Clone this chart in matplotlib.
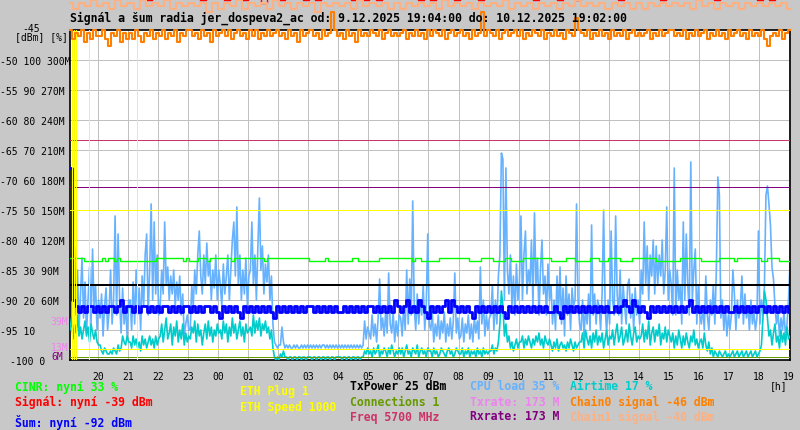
import numpy as np
import matplotlib.pyplot as plt

W, H = 800, 430
BG = '#c8c8c8'
MONO = 'DejaVu Sans Mono'

# time axis in hours counted from 9.12. 00:00
t_start = 19 + 4 / 60
t_end = 43 + 2 / 60
hour_ticks = list(range(20, 44))
hour_labels = ['%02d' % (h % 24) for h in hour_ticks]

# 20 samples per hour (19:04 ... 19:02)
cpu_load = [
    [35, 12, 28, 38, 15, 30, 10, 22, 34, 14, 26, 9, 20, 31, 12, 37, 18, 25, 10, 20],
    [14, 22, 8, 18, 24, 10, 16, 30, 12, 20, 48, 15, 42, 20, 9, 24, 12, 18, 8, 20],
    [20, 10, 26, 12, 30, 15, 24, 10, 28, 18, 35, 42, 15, 30, 52, 20, 46, 22, 35, 15],
    [18, 30, 22, 46, 25, 31, 20, 28, 22, 30, 18, 26, 20, 28, 15, 22, 8, 12, 15, 10],
    [10, 25, 18, 30, 22, 35, 43, 28, 22, 35, 25, 39, 28, 33, 20, 30, 24, 35, 20, 30],
    [25, 18, 32, 22, 28, 35, 20, 30, 40, 46, 28, 51, 25, 35, 20, 30, 22, 34, 18, 28],
    [30, 46, 25, 35, 20, 38, 54, 30, 38, 22, 32, 26, 35, 20, 28, 12, 6, 5, 4, 5],
    [5, 11, 6, 4, 5, 4, 5, 4, 4, 5, 4, 5, 4, 4, 5, 4, 5, 4, 5, 4],
    [5, 4, 5, 4, 5, 4, 5, 4, 5, 5, 4, 5, 4, 5, 4, 5, 4, 5, 4, 5],
    [4, 5, 4, 5, 4, 5, 4, 5, 4, 5, 4, 5, 4, 5, 4, 5, 13, 7, 11, 9],
    [7, 15, 8, 12, 6, 14, 27, 10, 14, 8, 16, 9, 29, 12, 9, 16, 6, 13, 8, 15],
    [14, 8, 18, 10, 30, 12, 27, 15, 53, 18, 10, 22, 12, 20, 15, 25, 10, 18, 42, 12],
    [10, 16, 6, 12, 8, 15, 7, 13, 9, 16, 6, 12, 8, 14, 7, 13, 29, 9, 14, 7],
    [8, 14, 6, 12, 9, 15, 7, 12, 6, 14, 9, 13, 7, 31, 12, 20, 8, 15, 10, 14],
    [15, 25, 10, 20, 12, 28, 35, 69, 67, 20, 64, 30, 22, 35, 18, 28, 15, 32, 20, 26],
    [48, 20, 35, 43, 22, 30, 25, 40, 18, 49, 25, 34, 15, 30, 40, 22, 28, 15, 32, 20],
    [25, 12, 20, 10, 28, 15, 31, 12, 24, 8, 28, 15, 22, 10, 24, 18, 20, 52, 20, 12],
    [10, 20, 8, 18, 12, 22, 10, 45, 15, 22, 12, 20, 18, 10, 22, 50, 18, 9, 20, 12],
    [43, 20, 15, 48, 22, 15, 30, 12, 25, 18, 12, 25, 27, 14, 22, 10, 24, 15, 20, 12],
    [30, 22, 46, 25, 38, 20, 35, 28, 40, 22, 38, 25, 35, 28, 40, 22, 30, 51, 20, 30],
    [25, 15, 64, 15, 30, 20, 25, 12, 46, 20, 42, 25, 15, 66, 20, 30, 37, 12, 25, 15],
    [12, 18, 10, 28, 15, 10, 20, 15, 25, 12, 30, 61, 55, 14, 20, 10, 18, 8, 15, 10],
    [15, 30, 22, 10, 20, 14, 18, 28, 12, 22, 14, 18, 10, 20, 12, 16, 10, 14, 43, 12],
    [20, 15, 25, 55, 58, 52, 45, 31, 27, 18, 12, 16, 8, 14, 10, 16, 8, 12, 20, 32],
]

airtime = [
    [10, 14, 7, 12, 9, 15, 8, 11, 7, 10, 13, 8, 11, 6, 12, 9, 7, 10, 6, 5],
    [5, 3, 2, 4, 3, 2, 2, 3, 2, 4, 3, 2, 5, 3, 4, 8, 6, 5, 8, 6],
    [6, 4, 8, 5, 7, 4, 6, 3, 8, 5, 7, 4, 6, 8, 5, 7, 4, 8, 5, 7],
    [8, 12, 6, 10, 14, 7, 9, 12, 5, 11, 8, 13, 6, 10, 7, 12, 5, 9, 6, 8],
    [7, 11, 9, 13, 6, 12, 8, 10, 5, 9, 12, 7, 13, 8, 11, 6, 10, 8, 12, 9],
    [10, 7, 13, 9, 12, 6, 11, 8, 14, 9, 12, 7, 10, 13, 8, 11, 6, 12, 9, 10],
    [11, 8, 15, 9, 13, 10, 14, 8, 12, 10, 13, 9, 11, 7, 10, 4, 1, 0, 1, 0],
    [2, 1, 3, 1, 1, 0, 1, 1, 0, 1, 1, 0, 1, 1, 0, 1, 1, 0, 1, 1],
    [1, 0, 1, 1, 0, 1, 1, 0, 1, 1, 0, 1, 1, 0, 1, 1, 0, 1, 1, 1],
    [1, 0, 1, 1, 0, 1, 1, 0, 1, 1, 0, 1, 1, 0, 1, 1, 3, 2, 4, 2],
    [3, 1, 4, 2, 3, 5, 1, 3, 2, 4, 3, 1, 4, 2, 5, 3, 1, 3, 2, 4],
    [2, 4, 1, 3, 5, 2, 3, 1, 4, 3, 2, 5, 1, 3, 4, 2, 3, 1, 4, 3],
    [3, 1, 4, 2, 3, 1, 2, 4, 3, 2, 1, 3, 4, 2, 3, 1, 2, 4, 3, 2],
    [2, 4, 1, 3, 2, 4, 1, 3, 2, 3, 1, 4, 2, 3, 1, 4, 2, 3, 2, 3],
    [3, 5, 2, 4, 3, 6, 12, 23, 18, 8, 12, 6, 8, 4, 6, 3, 5, 7, 4, 6],
    [6, 8, 4, 7, 5, 8, 6, 4, 7, 5, 8, 6, 9, 5, 7, 4, 8, 6, 5, 7],
    [5, 3, 6, 4, 7, 3, 5, 6, 4, 5, 3, 6, 4, 7, 5, 3, 6, 4, 5, 6],
    [6, 9, 4, 10, 7, 5, 8, 4, 9, 6, 10, 5, 8, 6, 9, 4, 7, 10, 5, 8],
    [7, 10, 5, 9, 12, 6, 8, 11, 5, 7, 10, 6, 12, 8, 5, 9, 11, 6, 8, 7],
    [8, 12, 6, 10, 7, 13, 5, 9, 11, 6, 10, 8, 12, 5, 9, 7, 11, 6, 10, 8],
    [6, 9, 4, 8, 5, 10, 7, 4, 8, 5, 9, 6, 4, 8, 6, 10, 5, 7, 4, 6],
    [7, 4, 9, 5, 3, 6, 2, 4, 1, 3, 2, 1, 3, 2, 1, 2, 3, 1, 2, 1],
    [2, 3, 1, 2, 3, 1, 2, 3, 1, 2, 3, 1, 2, 3, 1, 2, 3, 1, 2, 3],
    [5, 14, 23, 20, 14, 8, 10, 5, 9, 12, 6, 8, 4, 10, 6, 9, 5, 11, 7, 8],
]

# 10 samples per hour
cinr = [
    [34, 34, 34, 34, 34, 33, 33, 33, 33, 33],
    [33, 34, 33, 34, 34, 33, 34, 33, 33, 33],
    [33, 33, 33, 33, 33, 33, 33, 33, 33, 34],
    [34, 34, 34, 34, 34, 34, 34, 34, 33, 34],
    [33, 33, 33, 34, 34, 34, 33, 34, 34, 34],
    [34, 34, 34, 34, 33, 34, 34, 34, 34, 34],
    [34, 34, 34, 34, 34, 33, 34, 34, 34, 34],
    [34, 34, 34, 34, 34, 34, 34, 34, 34, 34],
    [33, 33, 33, 33, 33, 34, 33, 33, 33, 33],
    [33, 33, 33, 33, 34, 34, 33, 33, 33, 33],
    [33, 33, 33, 34, 34, 34, 34, 34, 34, 34],
    [34, 34, 34, 34, 33, 34, 34, 33, 33, 33],
    [33, 33, 33, 34, 34, 34, 34, 34, 34, 34],
    [34, 34, 34, 33, 33, 33, 33, 34, 34, 34],
    [34, 33, 33, 33, 33, 34, 34, 33, 33, 33],
    [33, 34, 34, 34, 34, 34, 34, 34, 34, 34],
    [33, 33, 33, 33, 33, 34, 34, 34, 33, 33],
    [33, 33, 33, 34, 34, 34, 33, 33, 33, 34],
    [34, 34, 34, 33, 33, 33, 33, 34, 34, 34],
    [34, 34, 34, 34, 34, 33, 33, 33, 33, 33],
    [33, 33, 33, 34, 34, 34, 34, 34, 34, 34],
    [33, 33, 33, 33, 33, 33, 34, 34, 34, 34],
    [34, 33, 34, 34, 34, 34, 34, 34, 34, 34],
    [33, 33, 34, 34, 34, 34, 33, 33, 33, 33],
]

noise = [
    [-68, -90, -91, -92, -91, -92, -91, -91, -92, -91],
    [-92, -91, -92, -91, -91, -92, -91, -90, -92, -91],
    [-91, -92, -91, -92, -91, -91, -92, -91, -92, -91],
    [-92, -91, -91, -92, -91, -92, -91, -92, -91, -91],
    [-92, -91, -92, -91, -92, -91, -91, -92, -91, -92],
    [-93, -91, -92, -91, -92, -91, -92, -93, -91, -92],
    [-91, -92, -91, -92, -91, -92, -91, -92, -93, -91],
    [-92, -91, -92, -91, -92, -91, -92, -91, -92, -91],
    [-91, -92, -91, -92, -91, -92, -91, -92, -91, -92],
    [-92, -91, -92, -91, -92, -91, -92, -91, -92, -91],
    [-91, -92, -91, -92, -91, -92, -91, -92, -90, -91],
    [-92, -91, -90, -92, -91, -92, -90, -91, -92, -93],
    [-91, -92, -91, -92, -91, -90, -92, -90, -91, -92],
    [-91, -92, -91, -92, -93, -91, -92, -91, -92, -91],
    [-92, -91, -92, -91, -92, -93, -91, -92, -91, -92],
    [-91, -92, -91, -92, -91, -92, -91, -92, -91, -92],
    [-92, -91, -92, -93, -91, -92, -91, -92, -91, -92],
    [-91, -92, -91, -92, -91, -92, -91, -92, -91, -92],
    [-92, -91, -92, -91, -90, -91, -92, -90, -91, -92],
    [-91, -92, -93, -91, -92, -91, -92, -91, -92, -91],
    [-92, -91, -92, -91, -92, -91, -90, -92, -91, -92],
    [-91, -92, -91, -92, -91, -92, -91, -92, -91, -92],
    [-92, -91, -92, -91, -92, -91, -92, -91, -92, -91],
    [-91, -92, -91, -92, -91, -92, -91, -92, -91, -92],
]

chain0 = [
    [-45, -46.5, -45.5, -46, -45, -47, -45.5, -46.5, -45, -46],
    [-46, -45, -46.5, -47.7, -45.5, -46, -45, -47, -45.5, -46.5],
    [-45.5, -46.5, -45, -46, -47, -45.5, -46, -45, -46.5, -45.5],
    [-46, -45, -46.5, -45.5, -46, -45, -47, -45.5, -46, -45],
    [-45, -46, -45.5, -46.5, -45, -46, -45.5, -47, -45, -46],
    [-45.5, -45, -46, -45, -46.5, -45.5, -45, -46, -45.5, -46.5],
    [-45, -46, -45, -46.5, -45.5, -46, -45, -46, -45.5, -45],
    [-46, -45.5, -46.5, -45, -46, -45.5, -47, -45, -46, -45.5],
    [-45, -46, -45.5, -46.5, -45, -46, -45.5, -42, -45, -46],
    [-45.5, -46.5, -45, -46, -45.5, -47, -45, -46, -45.5, -46],
    [-45, -45.5, -46, -45, -46.5, -45.5, -45, -46, -45.5, -46],
    [-45.5, -45, -46.5, -45.5, -46, -45, -46, -45.5, -46.5, -45],
    [-46, -45, -45.5, -46, -45, -46.5, -45.5, -45, -46, -45.5],
    [-45, -46, -45.5, -46.5, -45, -46, -45.5, -42, -46, -45],
    [-45.5, -46, -45, -46.5, -45.5, -45, -46, -45.5, -45, -46],
    [-45, -46.5, -45.5, -46, -45, -45.5, -46, -45, -46.5, -45.5],
    [-46, -45, -46, -45.5, -46.5, -45, -45.5, -46, -43, -45],
    [-45.5, -46, -45, -46.5, -45.5, -46, -45, -46, -45.5, -46.5],
    [-45, -46, -45.5, -46, -45, -46.5, -45.5, -45, -46, -45.5],
    [-46, -45.5, -45, -46.5, -45.5, -46, -45, -46, -45.5, -45],
    [-45, -46, -45.5, -46, -45, -46.5, -45.5, -46, -45, -46],
    [-45.5, -45, -46.5, -45.5, -46, -45, -46, -45.5, -46.5, -45],
    [-46, -45.5, -45, -46, -45.5, -46.5, -45, -46, -45.5, -46],
    [-45, -46.5, -47.7, -46, -45.5, -46, -45, -46.5, -45.5, -45],
]

# 5 samples per hour
chain1 = [
    [-40.5, -41.5, -40.5, -41, -40],
    [-41, -40.5, -41.5, -40, -41],
    [-40.5, -41.5, -40, -41, -40.5],
    [-41, -40, -41.5, -40.5, -41],
    [-40.5, -41, -40.5, -42, -40.5],
    [-41.5, -40.5, -41, -40, -41.5],
    [-40.5, -41, -40.5, -41.5, -40],
    [-41, -40.5, -41.5, -40.5, -41],
    [-40.5, -42, -40.5, -41, -40.5],
    [-41, -40.5, -41.5, -40, -41],
    [-40.5, -41, -40.5, -41.5, -40.5],
    [-41.5, -40.5, -41, -40.5, -41],
    [-40.5, -41.5, -40, -41, -40.5],
    [-41, -40.5, -41.5, -40.5, -41],
    [-40.5, -41, -40, -41.5, -40.5],
    [-41, -40.5, -41.5, -40.5, -41],
    [-40.5, -41.5, -40.5, -41, -40],
    [-41, -40.5, -41, -40.5, -41.5],
    [-40.5, -41, -40.5, -41.5, -40.5],
    [-41.5, -40.5, -41, -40.5, -41],
    [-40.5, -41, -40.5, -41.5, -40],
    [-41, -40.5, -41.5, -40.5, -41],
    [-40.5, -41.5, -40.5, -41, -40.5],
    [-41, -40.5, -41, -40.5, -41.5],
]

signal = [
    [-39, -39, -39, -39, -39],
    [-39, -39, -39, -39, -39],
    [-39, -39, -39, -40, -39],
    [-39, -39, -39, -39, -39],
    [-39, -39, -40, -39, -39],
    [-39, -40, -39, -39, -40],
    [-39, -39, -40.5, -39, -39],
    [-40, -39, -39, -39, -40],
    [-39, -40, -39, -39, -39],
    [-39, -39, -40, -39, -40],
    [-39, -40, -39, -39, -39],
    [-39, -39, -39, -40, -39],
    [-40, -39, -39, -39, -40],
    [-39, -39, -39, -40, -39],
    [-39, -39, -39, -39, -39],
    [-39, -39, -40, -39, -39],
    [-39, -40, -39, -39, -40],
    [-39, -39, -39, -39, -39],
    [-39, -40, -39, -39, -39],
    [-39, -39, -39, -40, -39],
    [-39, -39, -39, -39, -39],
    [-39, -39, -40, -39, -39],
    [-39, -39, -39, -39, -40],
    [-39, -40, -39, -39, -39],
]

# constant values (on the % / Mbit scales of the graph)
tx_power = 25          # dBm, drawn on the % scale
connections = 1        # drawn on the % scale
freq_level = 73.3      # Freq 5700 MHz, level on the % scale
eth_speed_level = 50   # ETH Speed 1000, level on the % scale
eth_plug_level = 3.7   # ETH Plug 1, level on the % scale
txrate = 173           # Mbit
rxrate = 173           # Mbit
eth_events = [19 + 7 / 60, 19 + 12 / 60, 19 + 16 / 60, 19 + 41 / 60, 21 + 17 / 60]

left_labels = ['-50 100 300M', '-55 90 270M', '-60 80 240M', '-65 70 210M',
               '-70 60 180M', '-75 50 150M', '-80 40 120M', '-85 30 90M',
               '-90 20 60M', '-95 10']
left_levels = [-50, -55, -60, -65, -70, -75, -80, -85, -90, -95]


def pct(v):
    return -100 + np.asarray(v, dtype=float) / 2


def mbit(v):
    return -100 + np.asarray(v, dtype=float) / 6


cpu_v = np.concatenate(cpu_load)
air_v = np.concatenate(airtime)
cinr_v = np.concatenate(cinr)
noise_v = np.concatenate(noise)
ch0_v = np.concatenate(chain0)
ch1_v = np.concatenate(chain1)
sig_v = np.concatenate(signal)
t20 = np.linspace(t_start, t_end, len(cpu_v))
t10 = np.linspace(t_start, t_end, len(cinr_v))
t5 = np.linspace(t_start, t_end, len(ch1_v))

fig = plt.figure(figsize=(W / 100, H / 100), dpi=100, facecolor=BG)
ax = fig.add_axes([70 / W, 1 - 360 / H, 720 / W, 330 / H])
ax.set_facecolor('white')
ax.set_xlim(t_start, t_end)
ax.set_ylim(-100, -45)
ax.set_xticks([])
ax.set_yticks([])
for s in ax.spines.values():
    s.set_color('black')
    s.set_linewidth(1.2)

px = 0.72  # one pixel in points
thin = dict(lw=px, antialiased=False)
for h in hour_ticks:
    ax.axvline(h, color='#c0c0c0', zorder=1, **thin)
for d in left_levels:
    ax.axhline(d, color='#c0c0c0', zorder=1, **thin)

ax.plot(t20, pct(cpu_v), color='#66b2ff', lw=1.2, zorder=2)
ax.plot(t20, pct(air_v), color='#00cccc', lw=1.2, zorder=3)
ax.plot(t10, noise_v, color='#0000ff', lw=2.0, drawstyle='steps-mid', zorder=4)
ax.plot(t10, pct(cinr_v), color='#00ff00', lw=1.0, drawstyle='steps-mid', zorder=5)

ax.axhline(pct(tx_power), color='black', lw=2 * px, antialiased=False, zorder=5)
ax.axhline(pct(connections), color='#669900', zorder=5, **thin)
ax.axhline(pct(freq_level), color='#cc3366', zorder=5, **thin)
ax.axhline(pct(eth_speed_level), color='#ffff00', zorder=5, **thin)
ax.axhline(pct(eth_plug_level), color='#ffff00', zorder=5, **thin)
ax.axhline(mbit(txrate), color='#ee82ee', zorder=5, **thin)
ax.axhline(mbit(rxrate), color='#800080', zorder=5, **thin)
for ev in eth_events:
    ax.axvline(ev, color='#ffff00', zorder=6, **thin)

ax.plot(t10, ch0_v, color='#ff8000', lw=1.5, drawstyle='steps-mid', zorder=7, clip_on=False)
ax.plot(t5, sig_v, color='#ff0000', lw=1.0, drawstyle='steps-mid', zorder=7, clip_on=False)
ax.plot(t5, ch1_v, color='#ffb080', lw=1.5, drawstyle='steps-mid', zorder=8, clip_on=False)


def ptext(x, y, s, **kw):
    fig.text(x / W, 1 - y / H, s, va='center', family=MONO, **kw)


ptext(70, 18, 'Signál a šum radia jer_dospeva2_ac od: 9.12.2025 19:04:00 do: 10.12.2025 19:02:00',
      fontsize=8.3, fontweight='bold')

# left axis
ptext(22, 29, '-45', fontsize=7)
ptext(15, 37, '[dBm] [%]', fontsize=7)
for d, lab in zip(left_levels, left_labels):
    y = 30 + (-45 - d) * 6 + 2
    ptext(0, y, lab, fontsize=7)
ptext(10, 362, '-100 0', fontsize=7)
ptext(68, 322, '39M', fontsize=7, color='#ee82ee', ha='right')
ptext(68, 348, '13M', fontsize=7, color='#ee82ee', ha='right')
ptext(63, 357, '6M', fontsize=7, color='#800080', ha='right')

# hour axis
for h, lab in zip(hour_ticks, hour_labels):
    x = 70 + (h - t_start) / (t_end - t_start) * 720
    ptext(x, 377, lab, fontsize=7, ha='center')
ptext(770, 386, '[h]', fontsize=7)

legend = [
    (15, 387, 'CINR: nyní 33 %', '#00ff00'),
    (15, 402, 'Signál: nyní -39 dBm', '#ff0000'),
    (15, 422, 'Šum: nyní -92 dBm', '#0000ff'),
    (240, 392, 'ETH Plug 1', '#ffff00'),
    (240, 407, 'ETH Speed 1000', '#ffff00'),
    (350, 387, 'TxPower 25 dBm', 'black'),
    (350, 402, 'Connections 1', '#669900'),
    (350, 417, 'Freq 5700 MHz', '#cc3366'),
    (470, 387, 'CPU load 35 %', '#66b2ff'),
    (470, 402, 'Txrate: 173 M', '#ee82ee'),
    (470, 417, 'Rxrate: 173 M', '#800080'),
    (570, 387, 'Airtime 17 %', '#00cccc'),
    (570, 402, 'Chain0 signal -46 dBm', '#ff8000'),
    (570, 417, 'Chain1 signal -40 dBm', '#ffb080'),
]
for x, y, s, c in legend:
    ptext(x, y, s, fontsize=8.3, fontweight='bold', color=c)

fig.savefig('out.png', dpi=100, facecolor=BG)
